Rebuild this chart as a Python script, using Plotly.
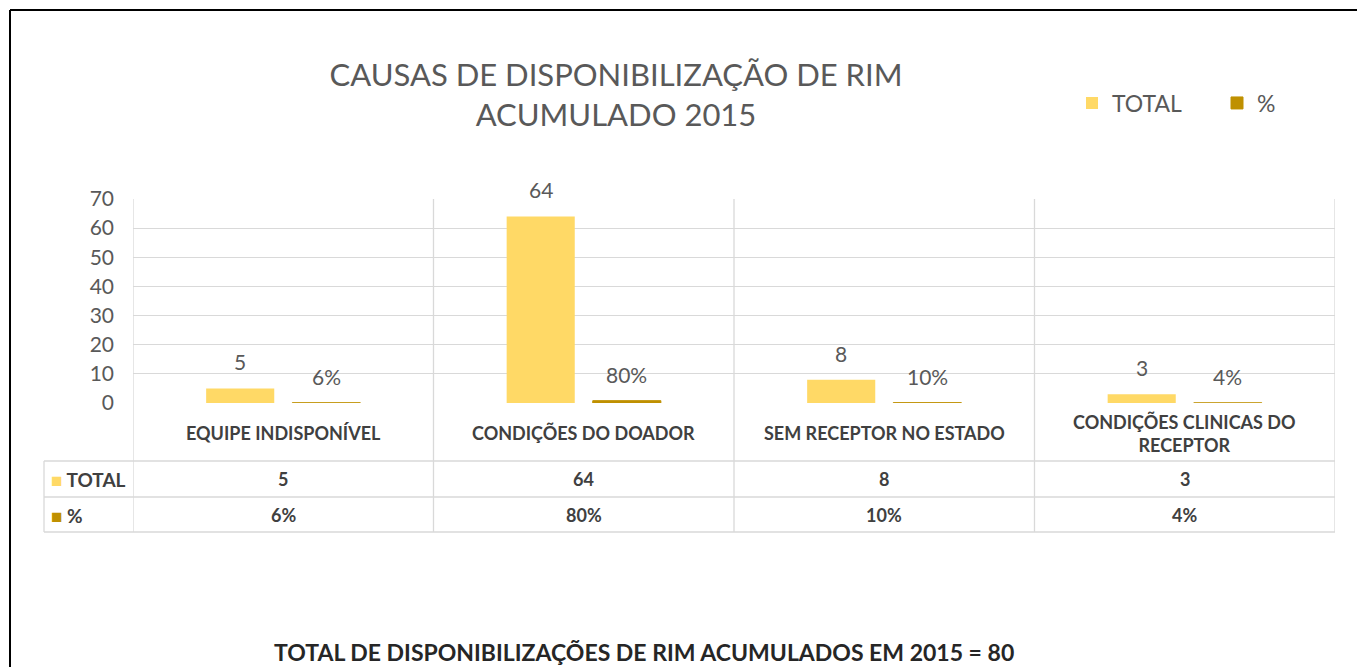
import plotly.graph_objects as go

categories = ["EQUIPE INDISPONÍVEL", "CONDIÇÕES DO DOADOR", "SEM RECEPTOR NO ESTADO", "CONDIÇÕES CLINICAS DO<br>RECEPTOR"]
total_values = [5, 64, 8, 3]
pct_values = [0.06, 0.80, 0.10, 0.04]
pct_labels = ["6%", "80%", "10%", "4%"]
y_ticks = [0, 10, 20, 30, 40, 50, 60, 70]

W, H = 1357, 667
L, R, T, B = 133, 1335, 199, 403

def xp(px):
    return (px - L) / (R - L)

def yp(py):
    return (B - py) / (B - T)

C_TOTAL = "#FFD966"
C_PCT = "#BF9000"
GRID = "#D9D9D9"
TXT = "#595959"
TBL = "#404040"
FONT = "Lato"

fig = go.Figure()
fig.add_trace(go.Bar(name="TOTAL", x=categories, y=total_values, marker=dict(color=C_TOTAL, line=dict(width=0))))
fig.add_trace(go.Bar(name="%", x=categories, y=pct_values, marker=dict(color=C_PCT, line=dict(color=C_PCT, width=1))))

shapes = []
# outer frame (top and left)
shapes.append(dict(type="line", xref="paper", yref="paper", x0=xp(10), x1=xp(W + 5), y0=yp(10), y1=yp(10), line=dict(color="black", width=2)))
shapes.append(dict(type="line", xref="paper", yref="paper", x0=xp(10), x1=xp(10), y0=yp(10), y1=yp(H + 5), line=dict(color="black", width=2)))
# category separators extending through table
for k in range(len(categories) + 1):
    shapes.append(dict(type="line", xref="x", yref="paper", x0=k - 0.5, x1=k - 0.5, y0=yp(532), y1=1, line=dict(color=GRID, width=1.3)))
# table horizontal lines
for py in [461, 497, 532]:
    shapes.append(dict(type="line", xref="paper", yref="paper", x0=xp(44), x1=1, y0=yp(py), y1=yp(py), line=dict(color=GRID, width=1.3)))
shapes.append(dict(type="line", xref="paper", yref="paper", x0=xp(44), x1=xp(44), y0=yp(461), y1=yp(532), line=dict(color=GRID, width=1.3)))

annotations = []
for i, c in enumerate(categories):
    annotations.append(dict(x=c, y=yp(433), xref="x", yref="paper", text=c, showarrow=False,
                            font=dict(family=FONT, size=18, color=TBL, weight="bold"), yanchor="middle"))
    annotations.append(dict(x=c, y=yp(479), xref="x", yref="paper", text=str(total_values[i]), showarrow=False,
                            font=dict(family=FONT, size=18, color=TBL, weight="bold"), yanchor="middle"))
    annotations.append(dict(x=c, y=yp(515), xref="x", yref="paper", text=pct_labels[i], showarrow=False,
                            font=dict(family=FONT, size=18, color=TBL, weight="bold"), yanchor="middle"))
    annotations.append(dict(x=c, y=total_values[i], xref="x", yref="y", text=str(total_values[i]), showarrow=False,
                            xshift=-43, yshift=12, yanchor="bottom", font=dict(family=FONT, size=21, color=TXT)))
    annotations.append(dict(x=c, y=pct_values[i], xref="x", yref="y", text=pct_labels[i], showarrow=False,
                            xshift=43, yshift=12, yanchor="bottom", font=dict(family=FONT, size=21, color=TXT)))

annotations.append(dict(x=xp(49), y=yp(479), xref="paper", yref="paper", xanchor="left", yanchor="middle", showarrow=False,
                        text=f'<span style="color:{C_TOTAL}">■</span> TOTAL', font=dict(family=FONT, size=19, color=TBL, weight="bold")))
annotations.append(dict(x=xp(49), y=yp(515), xref="paper", yref="paper", xanchor="left", yanchor="middle", showarrow=False,
                        text=f'<span style="color:{C_PCT}">■</span> %', font=dict(family=FONT, size=19, color=TBL, weight="bold")))
annotations.append(dict(x=xp(644), y=yp(652), xref="paper", yref="paper", xanchor="center", yanchor="middle", showarrow=False,
                        text="TOTAL DE DISPONIBILIZAÇÕES DE RIM ACUMULADOS EM 2015 = 80",
                        font=dict(family=FONT, size=23, color="#262626", weight="bold")))

fig.update_layout(
    width=W, height=H,
    margin=dict(l=L, r=W - R, t=T, b=H - B, pad=0, autoexpand=False),
    paper_bgcolor="white", plot_bgcolor="white",
    barmode="group", bargap=0.427, bargroupgap=0.209,
    title=dict(text="CAUSAS DE DISPONIBILIZAÇÃO DE RIM<br>ACUMULADO 2015", x=616 / W, xanchor="center",
               y=1 - 86 / H, yanchor="middle", yref="container",
               font=dict(family=FONT, size=31, color=TXT)),
    legend=dict(orientation="h", xref="container", yref="container", x=1072 / W, y=1 - 103 / H,
                xanchor="left", yanchor="middle",
                font=dict(family=FONT, size=23, color=TXT), entrywidth=100, bgcolor="rgba(0,0,0,0)"),
    xaxis=dict(type="category", range=[-0.5, len(categories) - 0.5], showticklabels=False, showgrid=False,
               zeroline=False, showline=False, fixedrange=True),
    yaxis=dict(range=[0, 70], tickvals=y_ticks, showgrid=True, gridcolor=GRID, gridwidth=1.3, zeroline=False,
               showline=False, ticks="", tickfont=dict(family=FONT, size=21, color=TXT), ticklabelstandoff=18),
    shapes=shapes, annotations=annotations,
    font=dict(family=FONT),
)

fig.write_html("out.html")
